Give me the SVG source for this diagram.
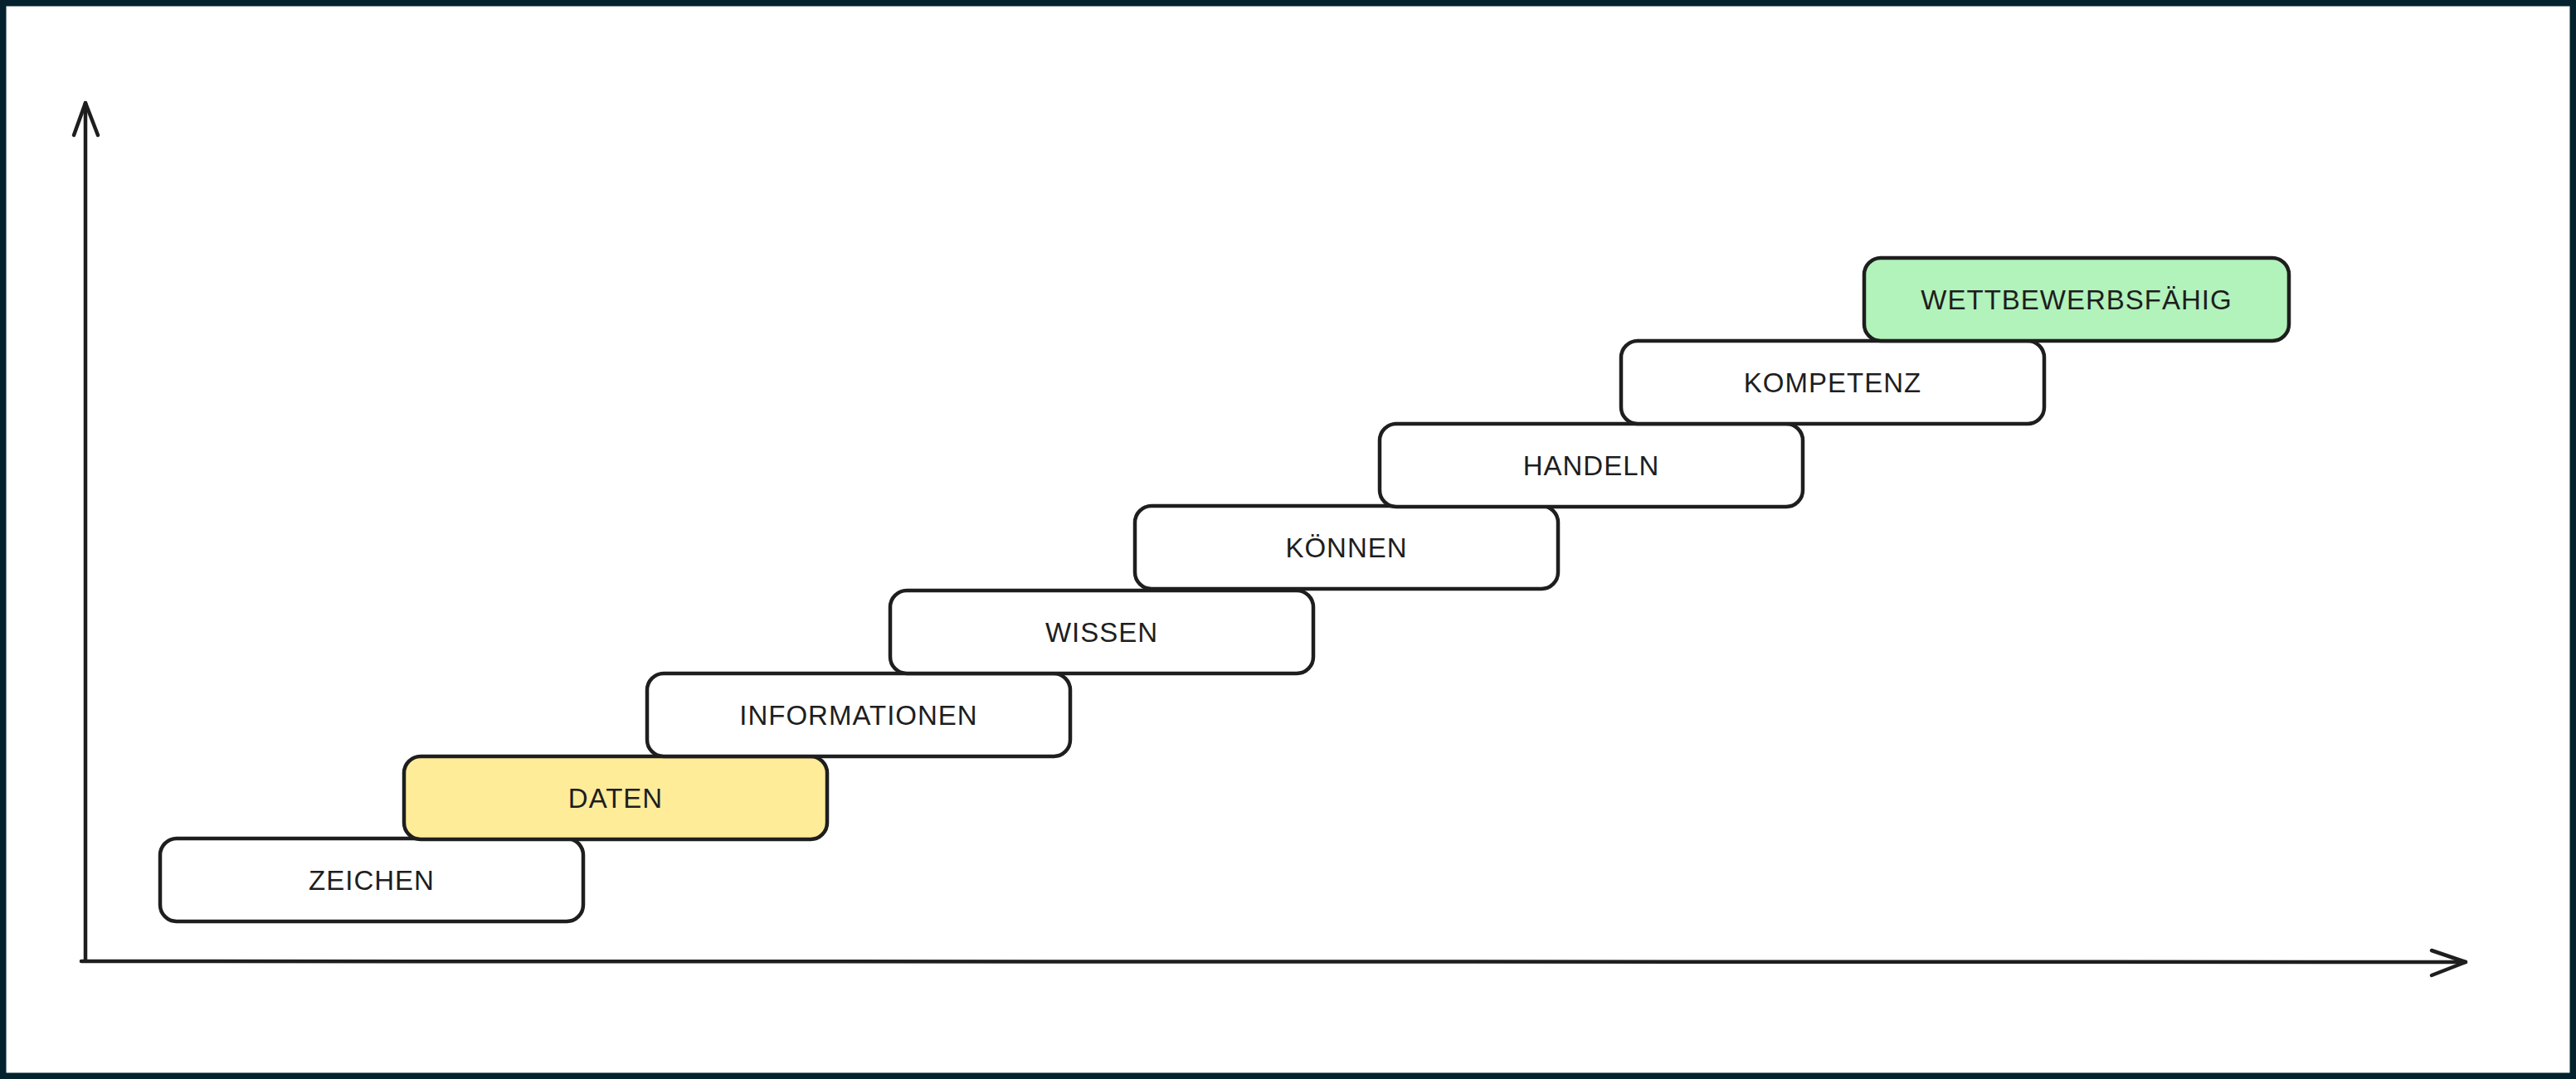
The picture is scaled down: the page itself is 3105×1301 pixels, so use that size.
<svg xmlns="http://www.w3.org/2000/svg" width="3105" height="1301" viewBox="0 0 3105 1301">
<style>
.box{stroke:#1e1e1e;stroke-width:4.5;}
.plain{fill:#ffffff;}
.yellow{fill:#ffec99;}
.green{fill:#b2f2bb;}
.lbl{font-family:"Liberation Sans","Open Sans",sans-serif;font-size:33px;fill:#1e1e1e;text-anchor:middle;dominant-baseline:central;letter-spacing:1px;}
.axis{fill:none;stroke:#1e1e1e;stroke-width:4.5;stroke-linecap:round;stroke-linejoin:round;}
</style>
<rect x="0" y="0" width="3105" height="1301" fill="#ffffff"/>
<rect x="3.5" y="3.5" width="3098" height="1294" fill="none" stroke="#03222e" stroke-width="8"/>
<g id="connectors">
<path class="axis" d="M103 1158 L103 124"/>
<path class="axis" d="M89 163 L103 124 L118 163"/>
<path class="axis" d="M98 1159 L2972 1160"/>
<path class="axis" d="M2931 1146 L2972 1160 L2931 1176"/>
</g>
<g id="zeichen"><rect class="box plain" x="193" y="1011" width="510" height="100" rx="20"/><text class="lbl" x="448" y="1061">ZEICHEN</text></g>
<g id="daten"><rect class="box yellow" x="487" y="912" width="510" height="100" rx="20"/><text class="lbl" x="742" y="962">DATEN</text></g>
<g id="informationen"><rect class="box plain" x="780" y="812" width="510" height="100" rx="20"/><text class="lbl" x="1035" y="862">INFORMATIONEN</text></g>
<g id="wissen"><rect class="box plain" x="1073" y="712" width="510" height="100" rx="20"/><text class="lbl" x="1328" y="762">WISSEN</text></g>
<g id="koennen"><rect class="box plain" x="1368" y="610" width="510" height="100" rx="20"/><text class="lbl" x="1623" y="660">KÖNNEN</text></g>
<g id="handeln"><rect class="box plain" x="1663" y="511" width="510" height="100" rx="20"/><text class="lbl" x="1918" y="561">HANDELN</text></g>
<g id="kompetenz"><rect class="box plain" x="1954" y="411" width="510" height="100" rx="20"/><text class="lbl" x="2209" y="461">KOMPETENZ</text></g>
<g id="wettbewerbsfaehig"><rect class="box green" x="2247" y="311" width="512" height="100" rx="20"/><text class="lbl" x="2503" y="361">WETTBEWERBSFÄHIG</text></g>
</svg>
